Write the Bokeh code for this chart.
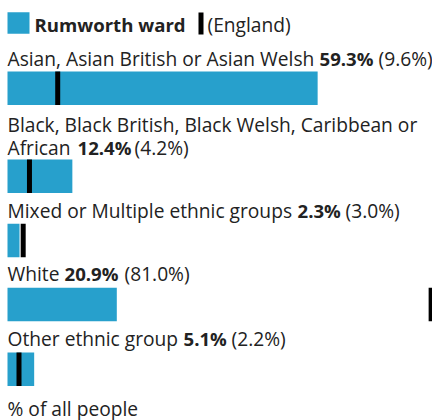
from bokeh.plotting import figure
from bokeh.models import Range1d
from bokeh.core.properties import value
from bokeh.embed import file_html
from bokeh.resources import INLINE

# ---- data ----
categories = [
    "Asian, Asian British or Asian Welsh",
    "Black, Black British, Black Welsh, Caribbean or African",
    "Mixed or Multiple ethnic groups",
    "White",
    "Other ethnic group",
]
ward_pct = [59.3, 12.4, 2.3, 20.9, 5.1]
england_pct = [9.6, 4.2, 3.0, 81.0, 2.2]
area_name = "Rumworth ward"
compare_name = "England"
axis_note = "% of all people"

# ---- layout ----
W, H = 432, 420
PX = 5.23            # pixels per percentage point
LEFT = 7             # pixel position of 0 %
X_START = -LEFT / PX
X_END = X_START + W / PX
FONT = value("Open Sans")
FS = "19.2px"
FS_BOLD = "18.6px"
TXT = "#222222"
BLUE = "#27a0cc"
BAR_H = 33.5
TEXT_DY = -6.5

wrap_after = {1: "Black, Black British, Black Welsh, Caribbean or"}
label_base = [64, 130, 216, 279, 344]
bar_top = [71, 159, 223.3, 287.3, 352]
bold_off = [319, 77, 297, 64, 183]
paren_off = [378, 134, 345, 124, 231]

p = figure(width=W, height=H, x_range=Range1d(X_START, X_END), y_range=Range1d(H, 0),
           output_backend="svg", toolbar_location=None, min_border=0,
           x_axis_type=None, y_axis_type=None, outline_line_color=None,
           background_fill_color="white", border_fill_color="white")
p.grid.visible = False

def px_x(px):
    return X_START + px / PX

def txt(x_off, y, s, bold=False):
    p.text(x=[X_START], y=[y], text=[s], x_offset=x_off, y_offset=TEXT_DY,
           text_baseline="alphabetic",
           text_align="left", text_font=FONT,
           text_font_size=FS_BOLD if bold else FS, text_color=TXT,
           text_font_style="bold" if bold else "normal")

# legend
p.rect(x=[px_x(18)], y=[22.5], width=22, height=21.5, width_units="screen",
       height_units="screen", fill_color=BLUE, line_color=None)
txt(34, 30, area_name, bold=True)
p.rect(x=[px_x(200.5)], y=[23], width=5, height=22, width_units="screen",
       height_units="screen", fill_color="black", line_color=None)
txt(207, 30, "(" + compare_name + ")")

# rows
centers = [t + BAR_H / 2 for t in bar_top]
for i, cat in enumerate(categories):
    y = label_base[i]
    if i in wrap_after:
        first = wrap_after[i]
        rest = cat[len(first):].strip()
        txt(7, y, first)
        y += 23
        txt(7, y, rest)
    else:
        txt(7, y, cat)
    txt(bold_off[i], y, f"{ward_pct[i]:.1f}%", bold=True)
    txt(paren_off[i], y, f"({england_pct[i]:.1f}%)")

p.hbar(y=centers, left=0, right=ward_pct, height=BAR_H, fill_color=BLUE, line_color=None)
p.rect(x=england_pct, y=centers, width=5, width_units="screen", height=BAR_H,
       fill_color="black", line_color=None)

txt(7, 414, axis_note)

open("out.html", "w").write(file_html(p, INLINE))
